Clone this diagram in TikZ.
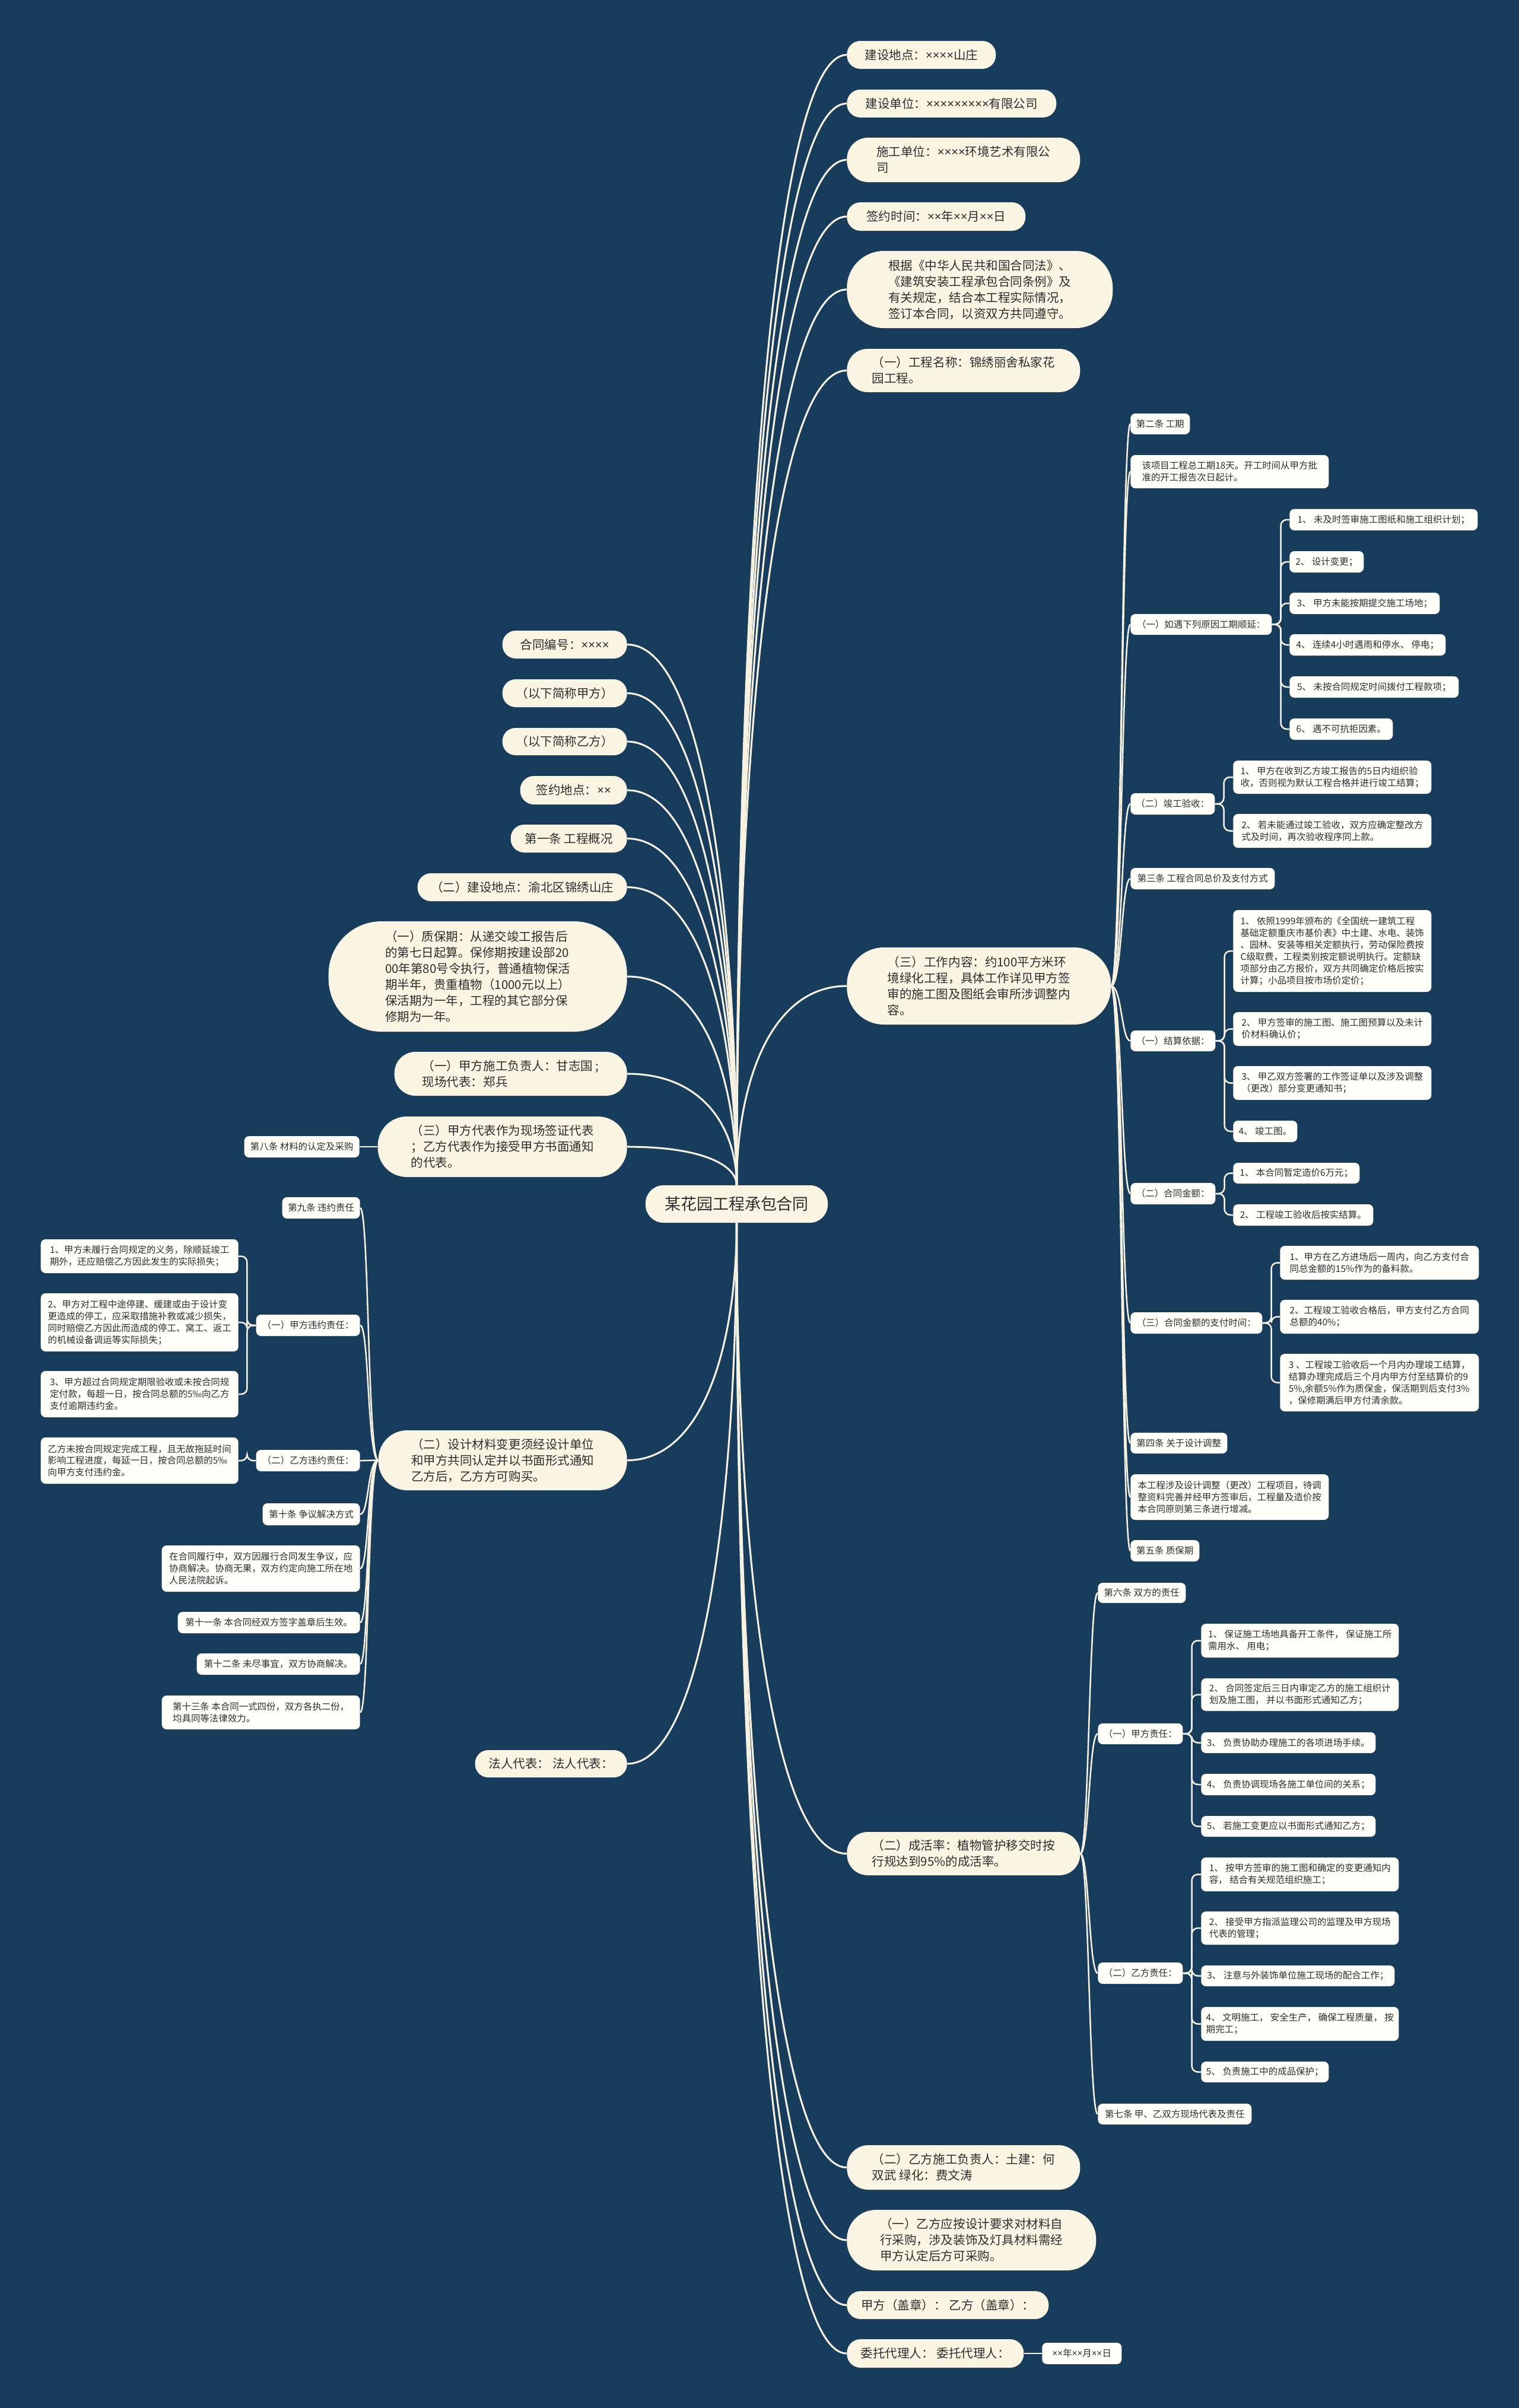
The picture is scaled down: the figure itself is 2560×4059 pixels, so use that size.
\documentclass[tikz,border=0pt]{standalone}
\usepackage{fontspec}
\setmainfont{Noto Sans CJK SC}
\newfontfamily\xfont{Noto Sans}
\newcommand{\xx}{{\xfont ×}}
\usepackage{tikz}
\usetikzlibrary{positioning,calc}
\definecolor{navy}{RGB}{24,61,92}
\definecolor{cream}{RGB}{250,245,226}
\definecolor{paper}{RGB}{255,254,249}
\definecolor{ink}{RGB}{45,45,45}
\definecolor{wire}{RGB}{246,241,224}

\begin{document}
\begin{tikzpicture}[x=0.25mm,y=-0.25mm,
  root/.style={fill=cream,text=ink,rounded corners=7.5mm,minimum width=76.75mm,minimum height=15.75mm,font=\fontsize{19.2}{24}\selectfont},
  big/.style 2 args={fill=cream,text=ink,align=left,inner xsep=0pt,minimum width={#1*0.25mm},minimum height={#2*0.25mm},rounded corners={#2*0.12mm},font=\fontsize{14.6}{19.2}\selectfont},
  leaf/.style 2 args={fill=paper,text=ink,align=left,inner xsep=0pt,minimum width={#1*0.25mm},minimum height={#2*0.25mm},rounded corners=2mm,font=\fontsize{11}{14.2}\selectfont},
  trunk/.style={wire,line width=2.2pt},
  bough/.style={wire,line width=1.8pt},
  twig/.style={wire,line width=1.8pt,rounded corners=2.5mm}]
\fill[navy] (0,0) rectangle (2560,4059);
\node[root] (root) at (1241.5,2029.5) {某花园工程承包合同};

% main branches, right
\foreach \n/\y/\bw/\bh/\txt in {
  r1/92.5/251/47/{建设地点：\xx\xx\xx\xx 山庄},
  r2/174.5/353/47/{建设单位：\xx\xx\xx\xx\xx\xx\xx\xx\xx 有限公司},
  r3/269.5/393/75/{施工单位：\xx\xx\xx\xx 环境艺术有限公\\司},
  r4/365/301/48/{签约时间：\xx\xx 年\xx\xx 月\xx\xx 日},
  r5/488/448/130/{根据《中华人民共和国合同法》、\\《建筑安装工程承包合同条例》及\\有关规定，结合本工程实际情况，\\签订本合同，以资双方共同遵守。},
  r6/624.5/393/73/{（一）工程名称：锦绣丽舍私家花\\园工程。},
  r7/1662/445/130/{（三）工作内容：约100平方米环\\境绿化工程，具体工作详见甲方签\\审的施工图及图纸会审所涉调整内\\容。},
  r8/3124.5/393/73/{（二）成活率：植物管护移交时按\\行规达到95\%的成活率。},
  r9/3653.5/393/75/{（二）乙方施工负责人：土建：何\\双武 绿化：费文涛},
  r10/3776/420/102/{（一）乙方应按设计要求对材料自\\行采购，涉及装饰及灯具材料需经\\甲方认定后方可采购。},
  r11/3885.5/340/47/{甲方（盖章）： 乙方（盖章）：},
  r12/3967/298/48/{委托代理人： 委托代理人：}}
  {\node[big={\bw}{\bh},anchor=west] (\n) at (1427,\y) {\txt};}

% main branches, left
\foreach \n/\y/\bw/\bh/\txt in {
  l1/1086.5/210/47/{合同编号：\xx\xx\xx\xx},
  l2/1168.5/210/47/{（以下简称甲方）},
  l3/1250/210/46/{（以下简称乙方）},
  l4/1332/180/48/{签约地点：\xx\xx},
  l5/1413.5/196/47/{第一条 工程概况},
  l6/1495.5/353/47/{（二）建设地点：渝北区锦绣山庄},
  l7/1646/503/186/{（一）质保期：从递交竣工报告后\\的第七日起算。保修期按建设部20\\00年第80号令执行，普通植物保活\\期半年，贵重植物（1000元以上）\\保活期为一年，工程的其它部分保\\修期为一年。},
  l8/1810/392/74/{（一）甲方施工负责人：甘志国 ;\\现场代表：郑兵},
  l9/1933/420/102/{（三）甲方代表作为现场签证代表\\；乙方代表作为接受甲方书面通知\\的代表。},
  l10/2461.5/419/101/{（二）设计材料变更须经设计单位\\和甲方共同认定并以书面形式通知\\乙方后，乙方方可购买。},
  l11/2973/256/46/{法人代表： 法人代表：}}
  {\node[big={\bw}{\bh},anchor=east] (\n) at (1057,\y) {\txt};}

\node[leaf={194}{36},anchor=east] (l9a) at (606,1933) {第八条 材料的认定及采购};
\node[leaf={134}{36},anchor=west] (r12a) at (1756,3967) {\xx\xx 年\xx\xx 月\xx\xx 日};

% work content subtree
\foreach \n/\y/\bw/\bh/\txt in {
  a1/714.5/100/35/{第二条 工期},
  a2/795/334/56/{该项目工程总工期18天。开工时间从甲方批\\准的开工报告次日起计。},
  a3/1052.5/238/35/{（一）如遇下列原因工期顺延：},
  a4/1355/142/36/{（二）竣工验收：},
  a5/1481/243/36/{第三条 工程合同总价及支付方式},
  a6/1754.5/143/35/{（一）结算依据：},
  a7/2012/143/36/{（二）合同金额：},
  a8/2230/222/36/{（三）合同金额的支付时间：},
  a9/2432.5/163/35/{第四条 关于设计调整},
  a10/2523.5/334/77/{本工程涉及设计调整（更改）工程项目，待调\\整资料完善并经甲方签审后，工程量及造价按\\本合同原则第三条进行增减。},
  a11/2614/116/36/{第五条 质保期}}
  {\node[leaf={\bw}{\bh},anchor=west] (\n) at (1905,\y) {\txt};
   \draw[bough] (r7.east) .. controls +(18,0) and +(-15,0) .. (\n.west);}

\foreach \n/\y/\bw/\bh/\txt in {
  b1/876/317/36/{1、 未及时签审施工图纸和施工组织计划；},
  b2/947/125/36/{2、 设计变更；},
  b3/1017/253/36/{3、 甲方未能按期提交施工场地；},
  b4/1087/263/36/{4、 连续4小时遇雨和停水、 停电；},
  b5/1158/285/36/{5、 未按合同规定时间拨付工程款项；},
  b6/1229/174/36/{6、 遇不可抗拒因素。}}
  {\node[leaf={\bw}{\bh},anchor=west] (\n) at (2173,\y) {\txt};
   \draw[twig] (a3.east) -- ++(15,0) |- (\n.west);}

\foreach \p/\n/\y/\bw/\bh/\txt in {
  a4/c1/1310/334/56/{1、 甲方在收到乙方竣工报告的5日内组织验\\收，否则视为默认工程合格并进行竣工结算；},
  a4/c2/1400.5/334/57/{2、 若未能通过竣工验收，双方应确定整改方\\式及时间，再次验收程序同上款。},
  a6/d1/1603/334/138/{1、 依照1999年颁布的《全国统一建筑工程\\基础定额重庆市基价表》中土建、水电、装饰\\、园林、安装等相关定额执行，劳动保险费按\\C级取费，工程类别按定额说明执行。定额缺\\项部分由乙方报价，双方共同确定价格后按实\\计算；小品项目按市场价定价；},
  a6/d2/1734.5/334/57/{2、 甲方签审的施工图、施工图预算以及未计\\价材料确认价；},
  a6/d3/1825.5/334/57/{3、 甲乙双方签署的工作签证单以及涉及调整\\（更改）部分变更通知书；},
  a6/d4/1907/108/36/{4、 竣工图。},
  a7/e1/1977.5/213/35/{1、 本合同暂定造价6万元；},
  a7/e2/2048/236/36/{2、 工程竣工验收后按实结算。}}
  {\node[leaf={\bw}{\bh},anchor=west] (\n) at (2078,\y) {\txt};
   \draw[twig] (\p.east) -- ++(15,0) |- (\n.west);}

\foreach \n/\y/\bh/\txt in {
  f1/2128.5/57/{1、甲方在乙方进场后一周内，向乙方支付合\\同总金额的15\%作为的备料款。},
  f2/2219.5/57/{2、工程竣工验收合格后，甲方支付乙方合同\\总额的40\%；},
  f3/2330.5/97/{3 、工程竣工验收后一个月内办理竣工结算，\\结算办理完成后三个月内甲方付至结算价的9\\5\%,余额5\%作为质保金，保活期到后支付3\%\\，保修期满后甲方付清余款。}}
  {\node[leaf={335}{\bh},anchor=west] (\n) at (2157,\y) {\txt};
   \draw[twig] (a8.east) -- ++(15,0) |- (\n.west);}

% survival rate subtree
\foreach \n/\y/\bw/\bh/\txt in {
  g1/2685/148/34/{第六条 双方的责任},
  g2/2922.5/143/35/{（一）甲方责任：},
  g3/3326/143/36/{（二）乙方责任：},
  g4/3563.5/259/35/{第七条 甲、乙双方现场代表及责任}}
  {\node[leaf={\bw}{\bh},anchor=west] (\n) at (1850,\y) {\txt};
   \draw[bough] (r8.east) .. controls +(15,0) and +(-15,0) .. (\n.west);}

\foreach \p/\n/\y/\bw/\bh/\txt in {
  g2/h1/2765.5/333/57/{1、 保证施工场地具备开工条件， 保证施工所\\需用水、 用电；},
  g2/h2/2856.5/333/55/{2、 合同签定后三日内审定乙方的施工组织计\\划及施工图， 并以书面形式通知乙方；},
  g2/h3/2937.5/294/35/{3、 负责协助办理施工的各项进场手续。},
  g2/h4/3008/294/36/{4、 负责协调现场各施工单位间的关系；},
  g2/h5/3078.5/294/35/{5、 若施工变更应以书面形式通知乙方；},
  g3/i1/3159.5/333/57/{1、 按甲方签审的施工图和确定的变更通知内\\容， 结合有关规范组织施工；},
  g3/i2/3250/333/56/{2、 接受甲方指派监理公司的监理及甲方现场\\代表的管理；},
  g3/i3/3330.5/326/35/{3、 注意与外装饰单位施工现场的配合工作；},
  g3/i4/3411.5/333/57/{4、 文明施工， 安全生产， 确保工程质量， 按\\期完工；},
  g3/i5/3492.5/215/35/{5、 负责施工中的成品保护；}}
  {\node[leaf={\bw}{\bh},anchor=west] (\n) at (2024,\y) {\txt};
   \draw[twig] (\p.east) -- ++(15,0) |- (\n.west);}

% design change subtree, left
\foreach \n/\y/\bw/\bh/\txt in {
  j1/2036/131/36/{第九条 违约责任},
  j2/2234/175/36/{（一）甲方违约责任：},
  j3/2462/175/36/{（二）乙方违约责任：},
  j4/2552.5/164/37/{第十条 争议解决方式},
  j5/2644/334/78/{在合同履行中，双方因履行合同发生争议，应\\协商解决。协商无果，双方约定向施工所在地\\人民法院起诉。},
  j6/2735/307/36/{第十一条 本合同经双方签字盖章后生效。},
  j7/2805/275/36/{第十二条 未尽事宜，双方协商解决。},
  j8/2886.5/334/57/{第十三条 本合同一式四份，双方各执二份，\\均具同等法律效力。}}
  {\node[leaf={\bw}{\bh},anchor=east] (\n) at (607,\y) {\txt};
   \draw[bough] (l10.west) .. controls +(-18,0) and +(15,0) .. (\n.east);}

\foreach \p/\n/\y/\bh/\txt in {
  j2/k1/2117.5/57/{1、甲方未履行合同规定的义务，除顺延竣工\\期外，还应赔偿乙方因此发生的实际损失；},
  j2/k2/2229/98/{2、甲方对工程中途停建、缓建或由于设计变\\更造成的停工，应采取措施补救或减少损失，\\同时赔偿乙方因此而造成的停工、窝工、返工\\的机械设备调运等实际损失；},
  j2/k3/2350/78/{3、甲方超过合同规定期限验收或未按合同规\\定付款，每超一日，按合同总额的5‰向乙方\\支付逾期违约金。},
  j3/k4/2462/78/{乙方未按合同规定完成工程，且无故拖延时间\\影响工程进度，每延一日，按合同总额的5‰\\向甲方支付违约金。}}
  {\node[leaf={333}{\bh},anchor=east] (\n) at (402,\y) {\txt};
   \draw[twig] (\p.west) -- ++(-15,0) |- (\n.east);}

% trunk lines from the root
\foreach \n in {r1,r2,r3,r4,r5,r6,r7}
  \draw[trunk] (root.north) .. controls ($(root.north)!0.5!(root.north |- \n.west)$) and ($(\n.west)+(-130,0)$) .. (\n.west);
\foreach \n in {r8,r9,r10,r11,r12}
  \draw[trunk] (root.south) .. controls ($(root.south)!0.5!(root.south |- \n.west)$) and ($(\n.west)+(-130,0)$) .. (\n.west);
\foreach \n in {l1,l2,l3,l4,l5,l6,l7,l8,l9}
  \draw[trunk] (root.north) .. controls ($(root.north)!0.5!(root.north |- \n.east)$) and ($(\n.east)+(130,0)$) .. (\n.east);
\foreach \n in {l10,l11}
  \draw[trunk] (root.south) .. controls ($(root.south)!0.5!(root.south |- \n.east)$) and ($(\n.east)+(130,0)$) .. (\n.east);
\draw[bough] (l9.west) -- (l9a.east);
\draw[bough] (r12.east) -- (r12a.west);
\end{tikzpicture}
\end{document}
